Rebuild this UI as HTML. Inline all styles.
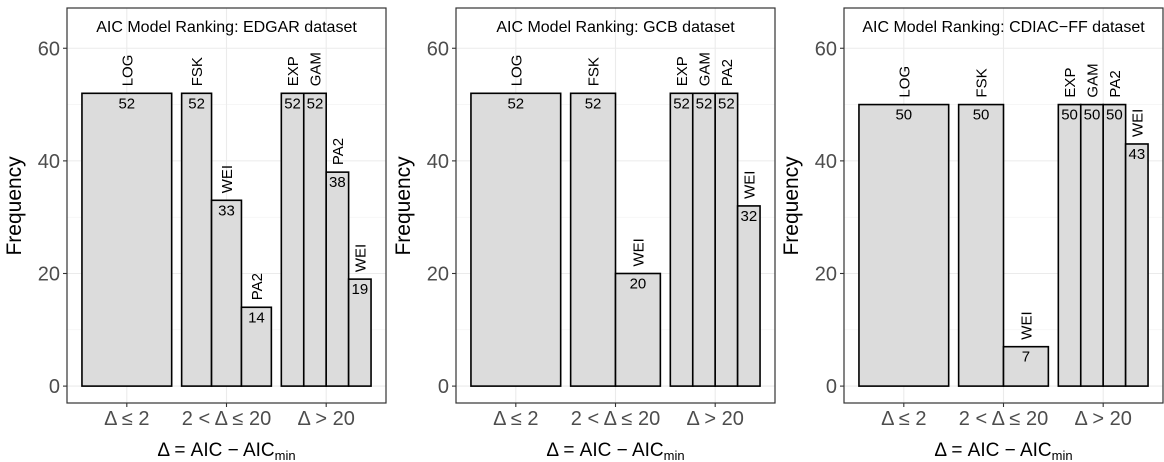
<!DOCTYPE html>
<html><head><meta charset="utf-8">
<style>
body{margin:0;background:#fff;}
svg{display:block;font-family:"Liberation Sans",sans-serif;}
</style></head>
<body>
<svg id="chart" width="1164" height="462" viewBox="0 0 1164 462" xmlns="http://www.w3.org/2000/svg"></svg>
<script>
const panelTitles = ["AIC Model Ranking: EDGAR dataset","AIC Model Ranking: GCB dataset","AIC Model Ranking: CDIAC\u2212FF dataset"];
const groupLabels = ["\u0394 \u2264 2","2 < \u0394 \u2264 20","\u0394 > 20"];
const yTicks = [0,20,40,60];
const edgarModels = [["LOG"],["FSK","WEI","PA2"],["EXP","GAM","PA2","WEI"]];
const edgarValues = [[52],[52,33,14],[52,52,38,19]];
const gcbModels = [["LOG"],["FSK","WEI"],["EXP","GAM","PA2","WEI"]];
const gcbValues = [[52],[52,20],[52,52,52,32]];
const cdiacModels = [["LOG"],["FSK","WEI"],["EXP","GAM","PA2","WEI"]];
const cdiacValues = [[50],[50,7],[50,50,50,43]];

const panelModels=[edgarModels,gcbModels,cdiacModels];
const panelValues=[edgarValues,gcbValues,cdiacValues];
const panelLefts=[67,456,844];
const PW=319, TOP=8, BOT=403;
const yMin=-3.0, yMax=67.15;
const NS="http://www.w3.org/2000/svg";
const svg=document.getElementById('chart');
function el(tag,attrs,parent,text){const e=document.createElementNS(NS,tag);for(const k in attrs)e.setAttribute(k,attrs[k]);if(text!==undefined)e.textContent=text;(parent||svg).appendChild(e);return e;}
function yS(v){return BOT-(v-yMin)/(yMax-yMin)*(BOT-TOP);}

panelTitles.forEach((title,p)=>{
  const L=panelLefts[p];
  const xS=x=>L+(x-0.4)/3.2*PW;
  const g=el('g',{});
  
  
  [10,30,50].forEach(v=>{const l=el('line',{x1:L,x2:L+PW,y1:yS(v),y2:yS(v),stroke:'#f2f2f2','stroke-width':0.6},g);
    });
  yTicks.forEach(v=>{const l=el('line',{x1:L,x2:L+PW,y1:yS(v),y2:yS(v),stroke:'#ebebeb','stroke-width':1.1},g);
    });
  groupLabels.forEach((lab,i)=>{const l=el('line',{x1:xS(i+1),x2:xS(i+1),y1:TOP,y2:BOT,stroke:'#ebebeb','stroke-width':1.1},g);
    });
  const models=panelModels[p], vals=panelValues[p];
  vals.forEach((grp,i)=>{
    const n=grp.length, w=0.9/n;
    grp.forEach((v,j)=>{
      const x0=xS(i+1-0.45+j*w), x1=xS(i+1-0.45+(j+1)*w), cx=(x0+x1)/2;
      const r=el('rect',{x:x0,y:yS(v),width:x1-x0,height:yS(0)-yS(v),fill:'#dcdcdc',stroke:'#000','stroke-width':1.6},g);
      
      
      const t=el('text',{x:cx,y:yS(v)+15,'text-anchor':'middle','font-size':15,fill:'#000'},g,String(v));
      
      
      const ty=yS(v)-7;
      const m=el('text',{x:0,y:0,'font-size':15,fill:'#000',transform:`translate(${cx+5.5},${ty}) rotate(-90)`},g,models[i][j]);
      
      
    });
  });
  const f=el('rect',{x:L,y:TOP,width:PW,height:BOT-TOP,fill:'none',stroke:'#333','stroke-width':1.2},g);
  
  const tt=el('text',{x:L+PW/2,y:32,'text-anchor':'middle','font-size':16,fill:'#000'},g,title);
  
  yTicks.forEach(v=>{
    const l=el('line',{x1:L-4,x2:L,y1:yS(v),y2:yS(v),stroke:'#333','stroke-width':1.1},g);
    
    const t=el('text',{x:L-7,y:yS(v)+7,'text-anchor':'end','font-size':20,fill:'#4d4d4d'},g,String(v));
    
  });
  groupLabels.forEach((lab,i)=>{
    const l=el('line',{x1:xS(i+1),x2:xS(i+1),y1:BOT,y2:BOT+4,stroke:'#333','stroke-width':1.1},g);
    
    const t=el('text',{x:xS(i+1),y:425,'text-anchor':'middle','font-size':20,fill:'#4d4d4d'},g,lab);
    
  });
  const yt=el('text',{x:0,y:0,'text-anchor':'middle','font-size':21,fill:'#000',transform:`translate(${L-46},${yS(32)}) rotate(-90)`},g,'Frequency');
  
  const xt=el('text',{x:L+PW/2,y:456,'text-anchor':'middle','font-size':19,fill:'#000'},g);
  
  el('tspan',{},xt,'\u0394 = AIC \u2212 AIC');
  el('tspan',{'font-size':13,dy:4},xt,'min');
});
</script>
</body></html>
